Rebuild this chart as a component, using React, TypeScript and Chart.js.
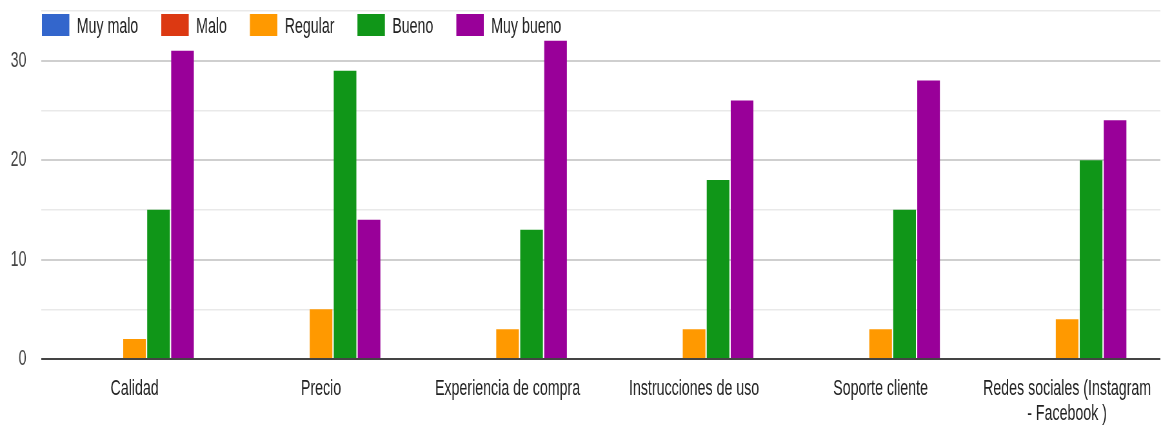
import { useEffect, useRef } from 'react';
import { Chart, registerables } from 'chart.js';

Chart.register(...registerables);

// Survey answers per aspect, one array per rating
const categories: (string | string[])[] = [
  'Calidad',
  'Precio',
  'Experiencia de compra',
  'Instrucciones de uso',
  'Soporte cliente',
  ['Redes sociales (Instagram', '- Facebook )'],
];
const seriesNames = ['Muy malo', 'Malo', 'Regular', 'Bueno', 'Muy bueno'];
const seriesColors = ['#3366cc', '#dc3912', '#ff9900', '#109618', '#990099'];
const muyMalo = [0, 0, 0, 0, 0, 0];
const malo = [0, 0, 0, 0, 0, 0];
const regular = [2, 5, 3, 3, 3, 4];
const bueno = [15, 29, 13, 18, 15, 20];
const muyBueno = [31, 14, 32, 26, 28, 24];
const yMax = 35;
const yStep = 5;
const yLabelStep = 10;

const W = 1164;
const H = 428;
// The chart is drawn wide and narrowed horizontally with CSS for condensed text
const SQUEEZE = 0.645;
const CW = Math.round(W / SQUEEZE);
const FONT = "'Liberation Sans', Arial, sans-serif";

const topLegend = {
  id: 'topLegend',
  afterDraw(chart: any) {
    const ctx = chart.ctx as CanvasRenderingContext2D;
    ctx.save();
    ctx.font = `22px ${FONT}`;
    ctx.textBaseline = 'alphabetic';
    ctx.textAlign = 'left';
    let x = 65;
    chart.data.datasets.forEach((ds: any) => {
      ctx.fillStyle = ds.backgroundColor;
      ctx.fillRect(x, 14, 42.5, 22);
      x += 42.5 + 11.5;
      ctx.fillStyle = '#222222';
      ctx.fillText(ds.label, x, 33);
      x += ctx.measureText(ds.label).width + 35.7;
    });
    ctx.restore();
  },
};

export default function App() {
  const canvasRef = useRef<HTMLCanvasElement | null>(null);

  useEffect(() => {
    document.body.style.margin = '0';
    const canvas = canvasRef.current;
    if (!canvas) return;
    const values = [muyMalo, malo, regular, bueno, muyBueno];
    const chart = new Chart(canvas, {
      type: 'bar',
      data: {
        labels: categories,
        datasets: seriesNames.map((name, i) => ({
          label: name,
          data: values[i],
          backgroundColor: seriesColors[i],
          borderWidth: 0,
          categoryPercentage: 0.643,
          barPercentage: 0.945,
        })),
      },
      options: {
        responsive: false,
        animation: false,
        devicePixelRatio: 1,
        layout: { padding: { top: 11, right: 6, left: 0, bottom: 0 } },
        plugins: {
          legend: { display: false },
          tooltip: { enabled: false },
        },
        scales: {
          x: {
            grid: { display: false },
            border: { display: false },
            ticks: {
              autoSkip: false,
              maxRotation: 0,
              minRotation: 0,
              padding: 9,
              color: '#222222',
              font: { family: FONT, size: 22, lineHeight: 1.15 },
            },
            afterFit(scale: any) {
              scale.height = 69;
            },
          },
          y: {
            min: 0,
            max: yMax,
            border: { display: false },
            grid: {
              drawTicks: false,
              color: (c: any) =>
                c.tick.value === 0 ? '#444444' : c.tick.value % yLabelStep === 0 ? '#cfcfcf' : '#e9e9e9',
              lineWidth: (c: any) => (c.tick.value === 0 ? 2 : c.tick.value % yLabelStep === 0 ? 2 : 1.5),
            },
            ticks: {
              stepSize: yStep,
              padding: 23,
              color: '#444444',
              font: { family: FONT, size: 22 },
              callback: (v: any) => (Number(v) % yLabelStep === 0 ? String(v) : ''),
            },
            afterFit(scale: any) {
              scale.width = 64;
              scale.paddingTop = 0;
              scale.paddingBottom = 0;
            },
          },
        },
      },
      plugins: [topLegend],
    });
    return () => chart.destroy();
  }, []);

  return (
    <div style={{ width: W, height: H, overflow: 'hidden', background: '#fff' }}>
      <canvas
        ref={canvasRef}
        width={CW}
        height={H}
        style={{ display: 'block', transform: `scaleX(${SQUEEZE})`, transformOrigin: '0 0' }}
      />
    </div>
  );
}
